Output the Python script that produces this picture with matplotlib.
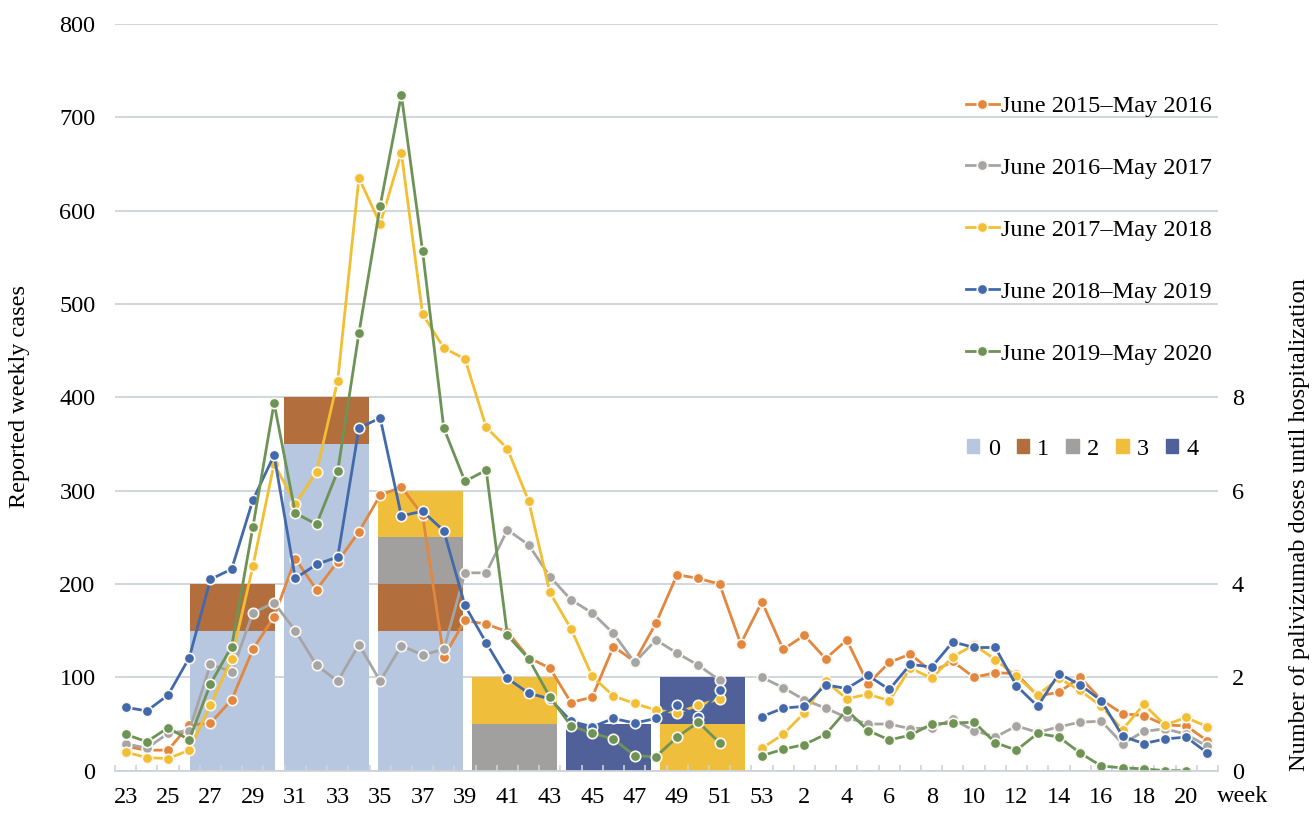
import numpy as np
import matplotlib.pyplot as plt
from matplotlib.patches import Patch

plt.rcParams['font.family'] = ['Liberation Serif', 'DejaVu Serif']

# week axis: 23..53 then 1..21
weeks = list(range(23, 54)) + list(range(1, 22))
nan = np.nan

s2015 = [26, 22, 22, 49, 51, 76, 130, 165, 227, 194, 224, 256, 295, 304, 274, 122,
         161, 157, 149, 121, 110, 73, 79, 133, 117, 158, 210, 206, 200, 136, 181,
         130, 145, 120, 140, 93, 116, 125, 106, 117, 100, 105, 104, 80, 84, 100,
         76, 61, 59, 49, 48, 32]
s2016 = [29, 24, 40, 43, 114, 106, 169, 180, 150, 113, 96, 135, 96, 134, 124, 130,
         212, 212, 258, 242, 208, 183, 169, 147, 116, 140, 126, 113, 97, nan, 100,
         89, 76, 67, 57, 50, 50, 45, 46, 55, 43, 36, 48, 41, 47, 52,
         53, 29, 42, 45, 39, 26]
s2017 = [20, 14, 13, 22, 70, 120, 219, 329, 286, 320, 418, 635, 586, 662, 489, 453,
         441, 368, 345, 289, 191, 152, 101, 80, 72, 65, 62, 70, 77, nan, 24,
         39, 62, 96, 77, 82, 75, 110, 99, 122, 135, 119, 101, 81, 99, 86,
         69, 44, 71, 49, 57, 47]
s2018 = [68, 64, 81, 121, 205, 216, 290, 338, 206, 221, 229, 367, 378, 273, 278, 257,
         177, 137, 99, 83, 77, 53, 47, 56, 51, 56, 70, 58, 86, nan, 58,
         67, 69, 92, 88, 102, 87, 114, 111, 138, 132, 132, 91, 69, 104, 92,
         75, 37, 29, 34, 36, 19]
s2019 = [39, 31, 46, 33, 93, 133, 261, 394, 276, 264, 321, 469, 605, 724, 557, 367,
         310, 322, 145, 120, 79, 48, 40, 34, 16, 15, 36, 52, 30, nan, 16,
         23, 28, 39, 65, 43, 33, 38, 50, 51, 52, 30, 22, 40, 36, 19,
         5, 3, 2, 0, 0, nan]

season_labels = ['June 2015\u2013May 2016', 'June 2016\u2013May 2017',
                 'June 2017\u2013May 2018', 'June 2018\u2013May 2019',
                 'June 2019\u2013May 2020']
line_colors = ['#E2873D', '#A5A5A5', '#F2BE32', '#4169AC', '#6E9356']

# palivizumab doses until hospitalization, by month (Jun..May)
months = ['Jun', 'Jul', 'Aug', 'Sep', 'Oct', 'Nov', 'Dec', 'Jan', 'Feb', 'Mar', 'Apr', 'May']
dose0 = [0, 3, 7, 3, 0, 0, 0, 0, 0, 0, 0, 0]
dose1 = [0, 1, 1, 1, 0, 0, 0, 0, 0, 0, 0, 0]
dose2 = [0, 0, 0, 1, 1, 0, 0, 0, 0, 0, 0, 0]
dose3 = [0, 0, 0, 1, 1, 0, 1, 0, 0, 0, 0, 0]
dose4 = [0, 0, 0, 0, 0, 1, 1, 0, 0, 0, 0, 0]
dose_labels = ['0', '1', '2', '3', '4']
bar_colors = ['#B7C7E0', '#B26E3C', '#A29F9F', '#EFBF3C', '#4F6198']

left_ticks = list(range(0, 801, 100))
right_ticks = list(range(0, 17, 2))
right_ticklabels = ['0', '2', '4', '6', '8', '', '', '', '']

grid_col = '#CDD3DA'
fs = 17.5

fig = plt.figure(figsize=(13.16, 8.15), dpi=100)
rect = [115 / 1316, (815 - 770.7) / 815, (1218 - 115) / 1316, (770.7 - 24) / 815]

# bars (monthly, right axis) underneath
axb = fig.add_axes(rect)
axb.set_xlim(-0.25, 11.48)
axb.set_ylim(0, 16)
axb.set_axisbelow(True)
axb.yaxis.grid(True, color=grid_col, lw=1.3)
xm = np.arange(len(months))
bottom = np.zeros(len(months))
for vals, c in zip([dose0, dose1, dose2, dose3, dose4], bar_colors):
    axb.bar(xm, vals, width=0.9, bottom=bottom, color=c, lw=0)
    bottom += np.array(vals)
axb.set_xticks([])
axb.yaxis.tick_right()
axb.set_yticks(right_ticks)
axb.set_yticklabels(right_ticklabels)
axb.tick_params(axis='y', length=0, pad=10, labelsize=fs)
for sp in axb.spines.values():
    sp.set_visible(False)

# weekly case lines on top
ax = fig.add_axes(rect)
ax.patch.set_visible(False)
x = np.arange(len(weeks))
for vals, c, lab in zip([s2015, s2016, s2017, s2018, s2019], line_colors, season_labels):
    ax.plot(x, vals, '-o', color=c, lw=2, ms=7.5, mec='#FBF7F0', mew=1.2, label=lab)
ax.set_xlim(-0.5, len(weeks) - 0.5)
ax.set_ylim(0, 800)
ax.set_yticks(left_ticks)
ax.set_xticks(x[::2])
ax.set_xticklabels([str(w) for w in weeks[::2]])
ax.set_xticks(np.arange(-0.5, len(weeks), 1), minor=True)
ax.tick_params(axis='x', which='major', length=0, pad=12, labelsize=fs)
ax.tick_params(axis='x', which='minor', direction='in', length=4, color=grid_col, width=1.2)
ax.tick_params(axis='y', length=0, pad=14, labelsize=fs)
for k in ['top', 'left', 'right']:
    ax.spines[k].set_visible(False)
ax.spines['bottom'].set_color(grid_col)
ax.spines['bottom'].set_linewidth(1.3)

ax.annotate('week', xy=(1, 0), xycoords='axes fraction', xytext=(-1, -11),
            textcoords='offset points', ha='left', va='top', fontsize=fs)

fig.text(20 / 1316, (815 - 397) / 815, 'Reported weekly cases', rotation=90,
         ha='center', va='center', fontsize=fs)
fig.text(1300 / 1316, (815 - 771) / 815, 'Number of palivizumab doses until hospitalization',
         rotation=90, ha='center', va='bottom', fontsize=fs)

leg1 = ax.legend(loc='upper right', bbox_to_anchor=(1212 / 1316, 1 - 95 / 815),
                 bbox_transform=fig.transFigure, frameon=False, fontsize=fs,
                 labelspacing=1.64, handlelength=1.35, handletextpad=0.1,
                 borderpad=0, borderaxespad=0)
ax.add_artist(leg1)

handles = [Patch(color=c) for c in bar_colors]
ax.legend(handles, dose_labels, loc='center', bbox_to_anchor=(1083 / 1316, 1 - 449 / 815),
          bbox_transform=fig.transFigure, ncol=5, frameon=False, fontsize=fs,
          handlelength=0.5, handleheight=0.5, handletextpad=0.35, columnspacing=0.7,
          borderpad=0, borderaxespad=0)

fig.savefig('out.png', dpi=100)
